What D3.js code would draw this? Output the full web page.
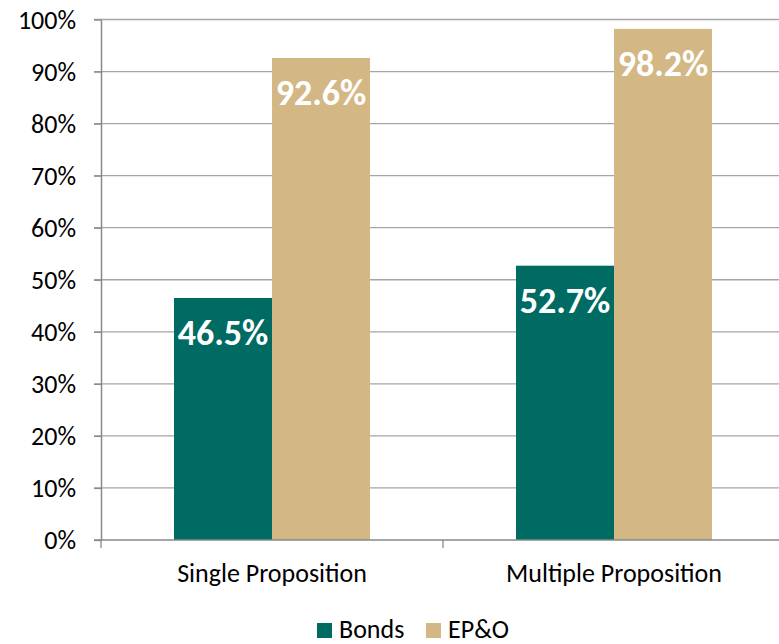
<!DOCTYPE html>
<html><head><meta charset="utf-8">
<script src="https://cdn.jsdelivr.net/npm/d3@7"></script>
<style>body{margin:0;background:#fff}svg{display:block}</style>
</head><body>
<svg id="c" width="779" height="644"></svg>
<script>
const categories = ["Single Proposition", "Multiple Proposition"];
const seriesNames = ["Bonds", "EP&O"];
const bonds = [46.5, 52.7];
const epo = [92.6, 98.2];
const yTicks = [0,10,20,30,40,50,60,70,80,90,100];
const colors = ["#006b63", "#d3b885"];

(function(){
const svg = d3.select("#c");
const font = "Carlito, Calibri, 'Open Sans', sans-serif";
const mLeft = 101, mRight = 785, mTop = 19.5, mBottom = 540;
const x = d3.scaleBand().domain(categories).range([mLeft, mRight]).paddingInner(0).paddingOuter(0);
const y = d3.scaleLinear().domain([0,100]).range([mBottom, mTop]);
const xs = d3.scaleBand().domain(seriesNames).range([0, x.bandwidth()]).paddingInner(0).paddingOuter(0.745);

// gridlines
svg.append("g").selectAll("line").data(yTicks.filter(d=>d>0)).join("line")
  .attr("x1", mLeft-7).attr("x2", 779).attr("y1", d=>y(d)).attr("y2", d=>y(d))
  .attr("stroke", "#a6a6a6").attr("stroke-width", 1.3);

// bars
const data = [bonds, epo];
const g = svg.append("g");
categories.forEach((c, i) => {
  seriesNames.forEach((s, j) => {
    const v = data[j][i];
    g.append("rect").attr("x", x(c) + xs(s)).attr("width", xs.bandwidth())
      .attr("y", y(v)).attr("height", y(0) - y(v)).attr("fill", colors[j]);
    g.append("text").attr("x", x(c) + xs(s) + xs.bandwidth()/2).attr("y", y(v) + 47)
      .attr("text-anchor", "middle").attr("fill", "#fff")
      .attr("font-family", font).attr("font-weight", "bold").attr("font-size", 36)
      .text(v.toFixed(1) + "%");
  });
});

// y axis
const yAxis = d3.axisLeft(y).tickValues(yTicks).tickFormat(d=>d+"%").tickSize(7).tickSizeOuter(0);
const ya = svg.append("g").attr("transform", `translate(${mLeft},0)`).call(yAxis);
ya.select(".domain").attr("stroke", "#898989").attr("stroke-width", 1.5);
ya.selectAll(".tick line").attr("stroke", "#898989").attr("stroke-width", 1.3);
ya.selectAll(".tick text").attr("font-family", font).attr("font-size", 26).attr("fill", "#000").attr("x", -25).attr("dy", "0.33em");

// x axis
const xa = svg.append("g").attr("transform", `translate(0,${mBottom})`);
xa.append("line").attr("x1", mLeft-7).attr("x2", 779).attr("y1", 0).attr("y2", 0).attr("stroke", "#898989").attr("stroke-width", 1.5);
const xb = [mLeft, mLeft + x.bandwidth()];
xa.selectAll("line.t").data(xb).join("line").attr("class","t")
  .attr("x1", d=>d).attr("x2", d=>d).attr("y1", 0).attr("y2", 8).attr("stroke", "#898989").attr("stroke-width", 1.3);
xa.selectAll("text").data(categories).join("text")
  .attr("x", d => x(d) + x.bandwidth()/2).attr("y", 42)
  .attr("text-anchor", "middle").attr("font-family", font).attr("font-size", 26).attr("fill", "#000")
  .text(d=>d);

// legend
const leg = svg.append("g");
const legX = [317, 426];
seriesNames.forEach((s, j) => {
  leg.append("rect").attr("x", legX[j]).attr("y", 623).attr("width", 15).attr("height", 15).attr("fill", colors[j]);
  leg.append("text").attr("x", legX[j] + 22).attr("y", 638).attr("font-family", font).attr("font-size", 26).attr("fill", "#000").text(s);
});
})();
</script>
</body></html>
